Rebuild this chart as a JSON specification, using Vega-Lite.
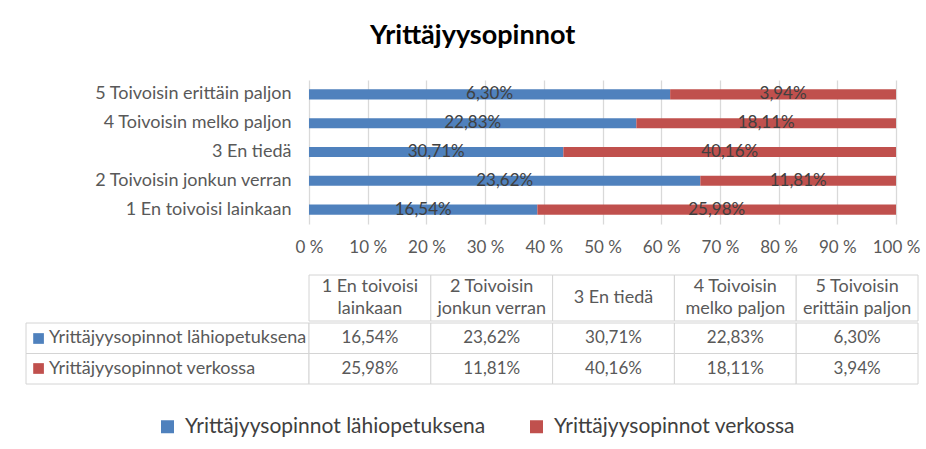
{
  "$schema": "https://vega.github.io/schema/vega-lite/v6.json",
  "background": "white",
  "padding": {"left": 25, "top": 22, "right": 5, "bottom": 5},
  "title": {"text": "Yrittäjyysopinnot", "fontSize": 27, "fontWeight": "bold", "font": "Lato", "color": "#000000", "anchor": "middle", "offset": 30},
  "datasets": {
    "shares": [
      {"category": "1 En toivoisi lainkaan", "series": "Yrittäjyysopinnot lähiopetuksena", "value": 0.1654},
      {"category": "1 En toivoisi lainkaan", "series": "Yrittäjyysopinnot verkossa", "value": 0.2598},
      {"category": "2 Toivoisin jonkun verran", "series": "Yrittäjyysopinnot lähiopetuksena", "value": 0.2362},
      {"category": "2 Toivoisin jonkun verran", "series": "Yrittäjyysopinnot verkossa", "value": 0.1181},
      {"category": "3 En tiedä", "series": "Yrittäjyysopinnot lähiopetuksena", "value": 0.3071},
      {"category": "3 En tiedä", "series": "Yrittäjyysopinnot verkossa", "value": 0.4016},
      {"category": "4 Toivoisin melko paljon", "series": "Yrittäjyysopinnot lähiopetuksena", "value": 0.2283},
      {"category": "4 Toivoisin melko paljon", "series": "Yrittäjyysopinnot verkossa", "value": 0.1811},
      {"category": "5 Toivoisin erittäin paljon", "series": "Yrittäjyysopinnot lähiopetuksena", "value": 0.0630},
      {"category": "5 Toivoisin erittäin paljon", "series": "Yrittäjyysopinnot verkossa", "value": 0.0394}
    ],
    "categories": [
      {"category": "1 En toivoisi lainkaan", "header": "1 En toivoisi\nlainkaan"},
      {"category": "2 Toivoisin jonkun verran", "header": "2 Toivoisin\njonkun verran"},
      {"category": "3 En tiedä", "header": "3 En tiedä"},
      {"category": "4 Toivoisin melko paljon", "header": "4 Toivoisin\nmelko paljon"},
      {"category": "5 Toivoisin erittäin paljon", "header": "5 Toivoisin\nerittäin paljon"}
    ],
    "blank": [{}]
  },
  "spacing": 0,
  "vconcat": [
    {
      "bounds": "flush",
      "spacing": 0,
      "hconcat": [
        {
          "width": 283, "height": 194,
          "data": {"name": "blank"},
          "mark": {"type": "rect", "fill": "white", "opacity": 0},
          "encoding": {}
        },
        {
          "width": 587, "height": 144,
          "data": {"name": "shares"},
          "encoding": {
            "y": {
              "field": "category", "type": "nominal", "sort": "descending",
              "scale": {"paddingInner": 0.65, "paddingOuter": 0.325},
              "axis": {"title": null, "domain": false, "ticks": false, "labelPadding": 18, "labelFontSize": 18, "labelColor": "#595959", "labelLimit": 300}
            },
            "order": {"field": "series", "type": "nominal", "sort": "ascending"}
          },
          "layer": [
            {
              "mark": {"type": "bar"},
              "encoding": {
                "x": {
                  "field": "value", "type": "quantitative", "stack": "normalize",
                  "scale": {"domain": [0, 1], "nice": false},
                  "axis": {"title": null, "values": [0, 0.1, 0.2, 0.3, 0.4, 0.5, 0.6, 0.7, 0.8, 0.9, 1], "labelExpr": "round(datum.value*100) + ' %'", "domain": false, "ticks": false, "grid": true, "gridColor": "#d9d9d9", "gridWidth": 1.3, "labelPadding": 15, "labelFontSize": 17, "labelColor": "#595959", "labelFlush": false}
                },
                "color": {
                  "field": "series", "type": "nominal",
                  "scale": {"domain": ["Yrittäjyysopinnot lähiopetuksena", "Yrittäjyysopinnot verkossa"], "range": ["#4F81BD", "#C0504D"]},
                  "legend": {"title": null, "orient": "none", "legendX": 131, "legendY": 336, "direction": "horizontal", "symbolType": "square", "symbolSize": 169, "symbolStrokeWidth": 0, "labelFontSize": 21, "labelColor": "#404040", "columnPadding": 40, "labelOffset": 7, "labelLimit": 400}
                }
              }
            },
            {
              "mark": {"type": "text", "fontSize": 17, "color": "#404040"},
              "encoding": {
                "x": {
                  "field": "value", "type": "quantitative", "stack": "normalize", "bandPosition": 0.5,
                  "scale": {"domain": [0, 1], "nice": false},
                  "axis": {"title": null, "values": [0, 0.1, 0.2, 0.3, 0.4, 0.5, 0.6, 0.7, 0.8, 0.9, 1], "labelExpr": "round(datum.value*100) + ' %'", "domain": false, "ticks": false, "grid": true, "gridColor": "#d9d9d9", "gridWidth": 1.3, "labelPadding": 15, "labelFontSize": 17, "labelColor": "#595959", "labelFlush": false}
                },
                "detail": {"field": "series"},
                "text": {"field": "value", "type": "quantitative", "format": ".2%"}
              }
            }
          ]
        }
      ]
    },
    {
      "bounds": "flush",
      "spacing": 0,
      "hconcat": [
        {
          "width": 283, "height": 46,
          "data": {"name": "blank"},
          "mark": {"type": "rect", "fill": "white", "opacity": 0},
          "encoding": {}
        },
        {
          "width": 609, "height": 46,
          "data": {"name": "categories"},
          "encoding": {
            "x": {"field": "category", "type": "nominal", "scale": {"paddingInner": 0, "paddingOuter": 0}, "axis": null}
          },
          "layer": [
            {"mark": {"type": "rect", "fill": "white", "stroke": "#d4d4d4", "strokeWidth": 1}},
            {
              "transform": [{"filter": "indexof(datum.header, '\\n') >= 0"}],
              "mark": {"type": "text", "fontSize": 18, "color": "#595959", "lineBreak": "\n", "lineHeight": 22, "dy": -11},
              "encoding": {"text": {"field": "header"}}
            },
            {
              "transform": [{"filter": "indexof(datum.header, '\\n') < 0"}],
              "mark": {"type": "text", "fontSize": 18, "color": "#595959"},
              "encoding": {"text": {"field": "header"}}
            }
          ]
        }
      ]
    },
    {
      "bounds": "flush",
      "spacing": 0,
      "hconcat": [
        {
          "width": 283, "height": 61,
          "data": {"name": "shares"},
          "transform": [{"aggregate": [{"op": "count", "as": "n"}], "groupby": ["series"]}],
          "mark": {"type": "rect", "fill": null, "stroke": "#d4d4d4", "strokeWidth": 1},
          "encoding": {
            "y": {
              "field": "series", "type": "nominal",
              "scale": {"paddingInner": 0, "paddingOuter": 0},
              "axis": {"title": null, "orient": "left", "offset": -17.4, "zindex": 1, "domain": false, "ticks": true, "tickSize": 10.7, "tickWidth": 10.7, "tickColor": {"condition": {"test": "datum.value === 'Yrittäjyysopinnot lähiopetuksena'", "value": "#4F81BD"}, "value": "#C0504D"}, "labelAlign": "left", "labelPadding": -15.7, "labelFontSize": 18, "labelColor": "#595959", "labelLimit": 300}
            }
          }
        },
        {
          "width": 609, "height": 61,
          "data": {"name": "shares"},
          "encoding": {
            "x": {"field": "category", "type": "nominal", "scale": {"paddingInner": 0, "paddingOuter": 0}, "axis": null},
            "y": {"field": "series", "type": "nominal", "scale": {"paddingInner": 0, "paddingOuter": 0}, "axis": null}
          },
          "layer": [
            {"mark": {"type": "rect", "fill": "white", "stroke": "#d4d4d4", "strokeWidth": 1}},
            {"mark": {"type": "text", "fontSize": 17, "color": "#595959"}, "encoding": {"text": {"field": "value", "type": "quantitative", "format": ".2%"}}}
          ]
        }
      ]
    }
  ],
  "config": {
    "font": "Lato",
    "view": {"stroke": null},
    "locale": {"number": {"decimal": ",", "thousands": "\u00a0", "grouping": [3], "currency": ["", " €"]}}
  }
}
